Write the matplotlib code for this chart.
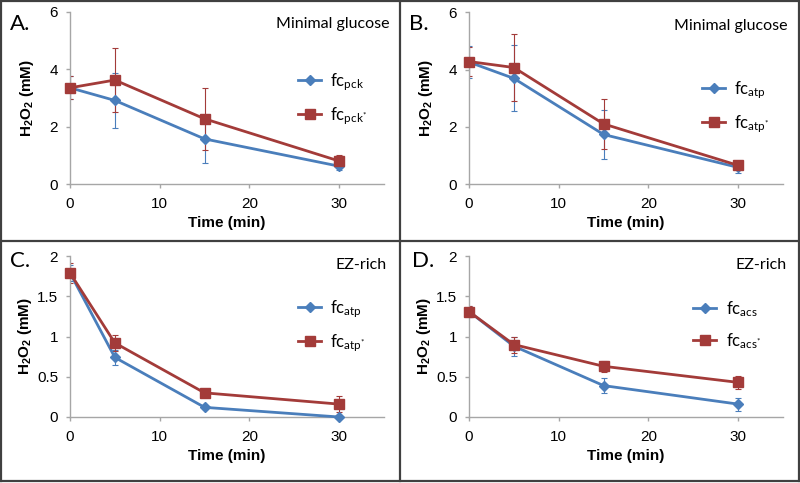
import matplotlib
matplotlib.use("Agg")
import matplotlib.pyplot as plt
from matplotlib.lines import Line2D
from matplotlib.transforms import blended_transform_factory

plt.rcParams['mathtext.fontset'] = 'custom'
plt.rcParams['mathtext.rm'] = 'Lato'
plt.rcParams['mathtext.it'] = 'Lato:italic'
plt.rcParams['mathtext.bf'] = 'Liberation Sans:bold'

time = [0, 5, 15, 30]

# Panel A (Minimal glucose, pck)
a_blue = [3.35, 2.91, 1.57, 0.62]
a_blue_err = [0.40, 0.96, 0.83, 0.12]
a_red = [3.35, 3.62, 2.27, 0.80]
a_red_err = [0.40, 1.12, 1.07, 0.20]

# Panel B (Minimal glucose, atp)
b_blue = [4.26, 3.69, 1.73, 0.58]
b_blue_err = [0.55, 1.15, 0.87, 0.20]
b_red = [4.28, 4.07, 2.10, 0.65]
b_red_err = [0.50, 1.16, 0.86, 0.10]

# Panel C (EZ-rich, atp)
c_blue = [1.79, 0.74, 0.12, 0.00]
c_blue_err = [0.10, 0.09, 0.02, 0.01]
c_red = [1.79, 0.92, 0.30, 0.16]
c_red_err = [0.12, 0.10, 0.02, 0.10]

# Panel D (EZ-rich, acs)
d_blue = [1.31, 0.88, 0.39, 0.16]
d_blue_err = [0.07, 0.12, 0.09, 0.08]
d_red = [1.31, 0.90, 0.63, 0.43]
d_red_err = [0.07, 0.10, 0.07, 0.08]

panels = [
    dict(tag="A.", cond="Minimal glucose", ymax=6, yticks=[0, 2, 4, 6], yticklabels=["0", "2", "4", "6"],
         blue=a_blue, blue_err=a_blue_err, red=a_red, red_err=a_red_err,
         lb=r'fc$_{\mathrm{pck}}$', lr=r'fc$_{\mathrm{pck}^{*}}$'),
    dict(tag="B.", cond="Minimal glucose", ymax=6, yticks=[0, 2, 4, 6], yticklabels=["0", "2", "4", "6"],
         blue=b_blue, blue_err=b_blue_err, red=b_red, red_err=b_red_err,
         lb=r'fc$_{\mathrm{atp}}$', lr=r'fc$_{\mathrm{atp}^{*}}$'),
    dict(tag="C.", cond="EZ-rich", ymax=2, yticks=[0, 0.5, 1, 1.5, 2], yticklabels=["0", "0.5", "1", "1.5", "2"],
         blue=c_blue, blue_err=c_blue_err, red=c_red, red_err=c_red_err,
         lb=r'fc$_{\mathrm{atp}}$', lr=r'fc$_{\mathrm{atp}^{*}}$'),
    dict(tag="D.", cond="EZ-rich", ymax=2, yticks=[0, 0.5, 1, 1.5, 2], yticklabels=["0", "0.5", "1", "1.5", "2"],
         blue=d_blue, blue_err=d_blue_err, red=d_red, red_err=d_red_err,
         lb=r'fc$_{\mathrm{acs}}$', lr=r'fc$_{\mathrm{acs}^{*}}$'),
]

W, H = 800, 483
fig = plt.figure(figsize=(8, 4.83), dpi=100)

# pixel layout: (x0, x35, y0, ymax) in pixels
boxes = [(70, 384, 184, 11.7), (469, 783, 184, 12.3), (70, 384, 417, 256), (469, 783, 417, 256)]
tag_pos = [(10, 24), (409, 24), (10, 261), (412, 261)]
cond_pos = [(390, 24), (787, 26), (387, 265), (787, 265)]
leg_pos = [(298, 80), (702, 88), (298, 307), (693, 308)]
ylab_x = [27, 426, 25, 424]

BLUE = '#4A7EBB'
RED = '#A33B39'
AXC = '#A6A6A6'

for p, (x0, x1, y0, y1), tp, cp, lp, yx in zip(panels, boxes, tag_pos, cond_pos, leg_pos, ylab_x):
    ax = fig.add_axes([x0 / W, 1 - y0 / H, (x1 - x0) / W, (y0 - y1) / H])
    ax.set_xlim(0, 35)
    ax.set_ylim(0, p['ymax'])
    for s in ['top', 'right']:
        ax.spines[s].set_visible(False)
    for s in ['left', 'bottom']:
        ax.spines[s].set_color(AXC)
        ax.spines[s].set_linewidth(1.0)
    ax.set_xticks([0, 10, 20, 30])
    ax.set_yticks(p['yticks'])
    ax.set_yticklabels(p['yticklabels'])
    ax.tick_params(axis='both', colors=AXC, labelcolor='black', labelsize=11, length=3, width=1.0, direction='out')
    ax.tick_params(axis='x', pad=6.5)
    ax.tick_params(axis='y', pad=5.5)
    for lab in ax.get_xticklabels() + ax.get_yticklabels():
        lab.set_family('Liberation Sans')
    ax.set_xlabel('Time (min)', fontsize=11, fontweight='bold', family='Liberation Sans')
    ax.set_ylabel(r'H$_{\mathbf{2}}$O$_{\mathbf{2}}$ (mM)', fontsize=11, fontweight='bold',
                  family='Liberation Sans')
    ax.yaxis.set_label_coords(yx / W, 0.5,
                              transform=blended_transform_factory(fig.transFigure, ax.transAxes))
    ax.yaxis.label.set_va('center')
    ax.xaxis.set_label_coords(0.5, 1 - (y0 + 39) / H,
                              transform=blended_transform_factory(ax.transAxes, fig.transFigure))
    ax.xaxis.label.set_va('center')

    ax.errorbar(time, p['blue'], yerr=p['blue_err'], fmt='none', ecolor=BLUE, elinewidth=0.8,
                capsize=2.2, capthick=0.8, zorder=2)
    ax.errorbar(time, p['red'], yerr=p['red_err'], fmt='none', ecolor=RED, elinewidth=0.8,
                capsize=2.2, capthick=0.8, zorder=2)
    lb, = ax.plot(time, p['blue'], color=BLUE, lw=2.0, marker='D', ms=5.5, mfc=BLUE, mec=BLUE,
                  zorder=3, clip_on=False)
    lr, = ax.plot(time, p['red'], color=RED, lw=2.0, marker='s', ms=7, mfc=RED, mec=RED,
                  zorder=4, clip_on=False)

    leg = ax.legend([lb, lr], [p['lb'], p['lr']], loc='upper left',
                    bbox_to_anchor=(lp[0] / W, 1 - (lp[1] - 9) / H), bbox_transform=fig.transFigure,
                    frameon=False, borderpad=0, borderaxespad=0, handlelength=1.4,
                    handletextpad=0.55, labelspacing=0.75, prop={'family': 'Lato', 'size': 12})

    fig.text(tp[0] / W, 1 - tp[1] / H, p['tag'], fontsize=16, family='Lato', ha='left', va='center')
    fig.text(cp[0] / W, 1 - cp[1] / H, p['cond'], fontsize=11.5, family='Lato', ha='right', va='center')

# panel frame lines
LC = '#404040'
for xs, ys in [((1, 799), (1, 1)), ((1, 799), (481, 481)), ((1, 1), (1, 481)), ((799, 799), (1, 481)),
               ((400, 400), (1, 481)), ((1, 799), (241, 241))]:
    fig.add_artist(Line2D([x / W for x in xs], [1 - y / H for y in ys], color=LC, lw=1.6,
                          transform=fig.transFigure))

fig.savefig('out.png', dpi=100)
